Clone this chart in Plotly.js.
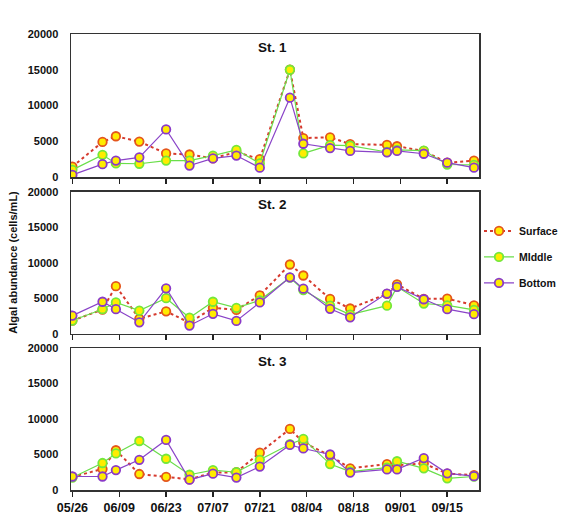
<!DOCTYPE html>
<html><head><meta charset="utf-8">
<script src="https://cdn.plot.ly/plotly-3.0.1.min.js"></script>
<style>html,body{margin:0;padding:0;background:#fff}#chart{width:575px;height:525px}</style>
</head><body><div id="chart"></div>
<script>
const dates = ['2020-05-26','2020-06-04','2020-06-08','2020-06-15','2020-06-23','2020-06-30','2020-07-07','2020-07-14','2020-07-21','2020-07-30','2020-08-03','2020-08-11','2020-08-17','2020-08-28','2020-08-31','2020-09-08','2020-09-15','2020-09-23'];
const stations = ['St. 1','St. 2','St. 3'];
const seriesNames = ['Surface','Middle','Bottom'];
const legendLabels = ['Surface','MIddle','Bottom'];
// St. 1
const st1Surface = [1450,4900,5700,4950,3300,3150,2600,3500,2500,15000,5450,5550,4600,4500,4300,3650,2000,2300];
const st1Middle  = [1000,3100,1900,1850,2300,2300,3000,3800,1900,15000,3300,4450,4400,3500,3800,3700,1750,1700];
const st1Bottom  = [300,1800,2300,2750,6650,1600,2600,3000,1300,11100,4650,4050,3650,3450,3650,3250,2000,1300];
// St. 2
const st2Surface = [1850,3400,6700,2100,3150,1550,3650,3350,5400,9750,8200,4900,3550,5600,6950,4900,4950,4000];
const st2Middle  = [1850,3450,4400,3250,5000,2250,4500,3650,4700,7900,6150,3950,2700,3950,6600,4250,4000,3350];
const st2Bottom  = [2550,4500,3450,1600,6400,1150,2800,1800,4400,7950,6350,3500,2300,5650,6600,4850,3450,2750];
// St. 3
const st3Surface = [1850,2950,5600,2250,1850,1500,2450,2500,5250,8600,6700,4850,3050,3650,3500,3750,2300,2100];
const st3Middle  = [1750,3800,5150,6900,4400,2150,2800,2500,4250,6450,7200,3650,2600,3150,4050,3050,1650,1900];
const st3Bottom  = [1900,1900,2800,4250,7050,1450,2300,1750,3300,6350,5850,5000,2450,2900,2900,4500,2350,1950];

const data = [[st1Surface,st1Middle,st1Bottom],[st2Surface,st2Middle,st2Bottom],[st3Surface,st3Middle,st3Bottom]];
const lineColors = ['#d63a2e','#6ade4a','#8a44c8'];
const markerLine = ['#e4561c','#74e83a','#8a3ac8'];
const dashes = ['dot','solid','solid'];
const widths = [2,1.2,1.2];

const traces = [];
data.forEach((panel, p) => {
  panel.forEach((vals, s) => {
    traces.push({
      x: dates, y: vals, type: 'scatter', mode: 'lines+markers',
      name: legendLabels[s], legendgroup: seriesNames[s], showlegend: p === 0,
      xaxis: p === 0 ? 'x' : 'x' + (p + 1), yaxis: p === 0 ? 'y' : 'y' + (p + 1),
      line: {color: lineColors[s], width: widths[s], dash: dashes[s]},
      marker: {size: 8.5, color: '#ffec00', line: {color: markerLine[s], width: 1.8}}
    });
  });
});

const axFont = {family: 'Liberation Sans, Arial', size: 11, color: '#111', weight: 'bold'};
const xbase = {
  type: 'date', range: ['2020-05-25 14:00', '2020-09-24 12:00'],
  tick0: '2020-05-26', dtick: 14 * 86400000, tickformat: '%m/%d',
  ticks: 'outside', ticklen: 5, tickwidth: 1.5, tickcolor: '#222',
  showline: true, linecolor: '#333', linewidth: 1.5, mirror: true,
  showgrid: false, zeroline: false,
  tickfont: {family: 'Liberation Sans, Arial', size: 12.5, color: '#111', weight: 'bold'}
};
const ybase = {
  range: [0, 20000], dtick: 5000, tickformat: 'd', showgrid: false, zeroline: false,
  showline: true, linecolor: '#333', linewidth: 1.5, mirror: true,
  ticks: '', ticklabelstandoff: 9, tickfont: axFont
};
const doms = [[0.6864, 1], [0.3428, 0.654], [0, 0.3114]];
const layout = {
  width: 575, height: 525, paper_bgcolor: '#fff', plot_bgcolor: '#fff',
  margin: {l: 71, r: 92, t: 34, b: 35},
  showlegend: true,
  legend: {x: 1.0, xanchor: 'left', y: 0.6, yanchor: 'top', tracegroupgap: 7,
    itemwidth: 30, bgcolor: 'rgba(0,0,0,0)',
    font: {family: 'Liberation Sans, Arial', size: 10.5, color: '#111', weight: 'bold'}},
  annotations: [
    {text: 'Algal abundance (cells/mL)', textangle: -90, xref: 'paper', yref: 'paper',
     x: -0.143, y: 0.5, xanchor: 'center', yanchor: 'middle', showarrow: false,
     font: {family: 'Liberation Sans, Arial', size: 11, color: '#111', weight: 'bold'}}
  ]
};
doms.forEach((d, i) => {
  const xk = i === 0 ? 'xaxis' : 'xaxis' + (i + 1);
  const yk = i === 0 ? 'yaxis' : 'yaxis' + (i + 1);
  const ya = i === 0 ? 'y' : 'y' + (i + 1);
  const xa = i === 0 ? 'x' : 'x' + (i + 1);
  layout[xk] = Object.assign({}, xbase, {anchor: ya, showticklabels: i === 2});
  if (i > 0) layout[xk].matches = 'x';
  layout[yk] = Object.assign({}, ybase, {domain: d, anchor: xa});
  layout.annotations.push({text: stations[i], xref: 'paper', yref: 'paper',
    x: 0.495, y: d[1], yshift: -13, xanchor: 'center', yanchor: 'middle', showarrow: false,
    font: {family: 'Liberation Sans, Arial', size: 13.5, color: '#111', weight: 'bold'}});
});
Plotly.newPlot('chart', traces, layout, {displayModeBar: false, staticPlot: true});
</script></body></html>
